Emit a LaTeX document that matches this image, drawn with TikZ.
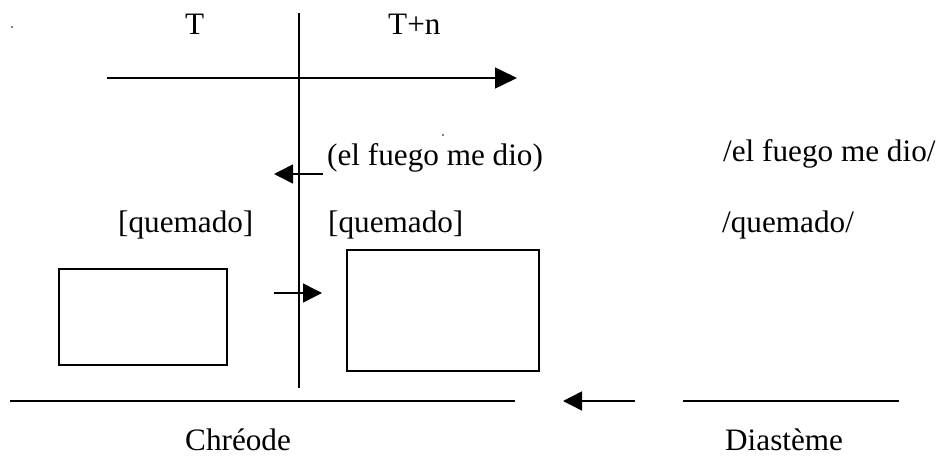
\documentclass[tikz,border=0pt]{standalone}
\usepackage{fontspec}
\setmainfont{Liberation Serif}
\usetikzlibrary{arrows.meta}
\begin{document}
\begin{tikzpicture}[x=1pt,y=-1pt,
  line/.style={line width=1.5pt},
  tip/.style={-{Triangle[length=22pt,width=21pt]}},
  smalltip/.style={-{Triangle[length=19pt,width=19pt]}},
  lbl/.style={inner sep=0pt,anchor=base west,text depth=0pt,font=\fontsize{31.2}{36}\selectfont},
  frame/.style={draw,line width=1.5pt,inner sep=0pt}]
\useasboundingbox (0,0) rectangle (944,457);
% stray dots
\fill (12,27) circle (0.9pt);
\fill (443,135) circle (0.9pt);
% time axis
\coordinate (vt) at (299,13);
\coordinate (vb) at (299,388);
\draw[line] (vt) -- (vb);
\coordinate (ha) at (107,78);
\coordinate (hb) at (517,78);
\draw[line,tip] (ha) -- (hb);
\node[lbl] (T) at (185,35) {T};
\node[lbl] (Tn) at (388,35) {T+n};
% texts
\node[lbl] (fuego1) at (327,166) {(el fuego me dio)};
\node[lbl] (fuego2) at (723,161) {/el fuego me dio/};
\node[lbl] (q1) at (118,232) {[quemado]};
\node[lbl] (q2) at (328,232) {[quemado]};
\node[lbl] (q3) at (722,232) {/quemado/};
\node[lbl] (chr) at (185,450) {Chréode};
\node[lbl] (dia) at (725,450) {Diastème};
% small arrows
\coordinate (a1s) at (323,174);
\coordinate (a1e) at (274,174);
\draw[line,smalltip] (a1s) -- (a1e);
\coordinate (a2s) at (274,293);
\coordinate (a2e) at (322,293);
\draw[line,smalltip] (a2s) -- (a2e);
% boxes
\node[frame,minimum width=168pt,minimum height=96pt] (box1) at (143,317) {};
\node[frame,minimum width=192pt,minimum height=121pt] (box2) at (443,310.5) {};
% bottom lines
\coordinate (b1a) at (10,401);
\coordinate (b1b) at (515,401);
\draw[line] (b1a) -- (b1b);
\coordinate (b2s) at (635,401);
\coordinate (b2e) at (563,401);
\draw[line,smalltip] (b2s) -- (b2e);
\coordinate (b3a) at (683,401);
\coordinate (b3b) at (899,401);
\draw[line] (b3a) -- (b3b);
\end{tikzpicture}
\end{document}
